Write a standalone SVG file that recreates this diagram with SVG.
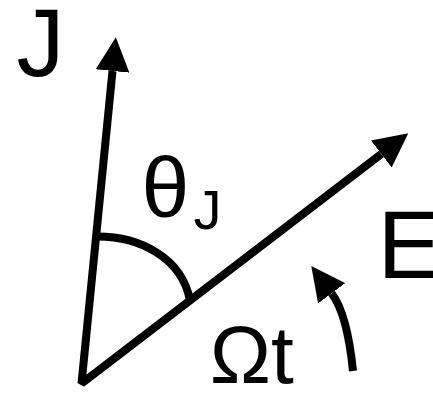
<svg xmlns="http://www.w3.org/2000/svg" width="433" height="393" viewBox="0 0 433 393">
<style>
.ln{fill:none;stroke:#000;stroke-width:8;stroke-linejoin:bevel;stroke-linecap:butt}
.t{font-family:"Liberation Sans",Arial,sans-serif;fill:#000}
</style>
<defs>
<marker id="ah" markerUnits="userSpaceOnUse" markerWidth="34" markerHeight="34" viewBox="0 0 34 34" refX="0" refY="17" orient="auto-start-reverse">
<path d="M0,0 L34,17 L0,34 z" fill="#000"/>
</marker>
</defs>
<rect width="433" height="393" fill="#fff"/>
<g id="connectors">
<path id="vectors" class="ln" d="M112.5,71 L81.5,383.5 L381.3,154" marker-start="url(#ah)" marker-end="url(#ah)"/>
<path id="theta-arc" class="ln" d="M96,236.5 C140,236 182,258 190,300.4"/>
<path id="omega-arrow" class="ln" d="M353,371 C350,341 343.7,309.3 331.7,293.3" marker-end="url(#ah)"/>
</g>
<g id="label-J"><text class="t" x="16.5" y="76" font-size="96">J</text></g>
<g id="label-E"><text class="t" x="377.6" y="278" font-size="96">E</text></g>
<g id="label-theta"><text class="t" x="141.6" y="216.7" font-size="86">θ</text><text class="t" x="193.5" y="229" font-size="56">J</text></g>
<g id="label-omega"><text class="t" x="209.7" y="383" font-size="82">Ωt</text></g>
</svg>
